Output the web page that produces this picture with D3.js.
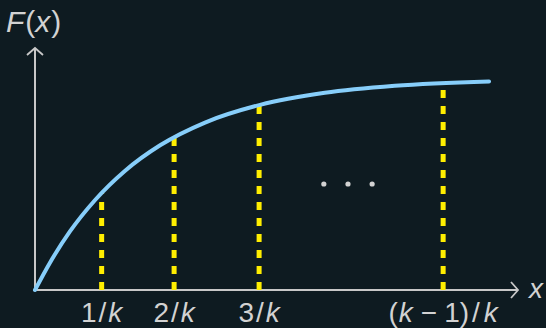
<!DOCTYPE html>
<html>
<head>
<meta charset="utf-8">
<script src="https://cdn.jsdelivr.net/npm/d3@7"></script>
<style>
  html, body { margin: 0; padding: 0; background: #0e1b21; }
  svg { display: block; }
  text { font-family: "Liberation Sans", Arial, sans-serif; fill: #d2d2d2; }
</style>
</head>
<body>
<svg id="chart" width="546" height="328"></svg>
<script>
// curve (x, F(x)) in axis units
var curveX = [0, 0.31, 0.72, 1.24, 1.86, 2.59, 3.52, 4.66, 6.00, 7.45, 9.40];
var curveY = [0, 1.13, 2.41, 3.71, 4.92, 5.98, 6.92, 7.65, 8.15, 8.44, 8.62];

// dashed verticals and their labels  [text, italic, dx]
var markX = [1.38, 2.88, 4.64, 8.45];
var markTop = [4.0, 6.3, 7.64, 8.5];
var markLabels = [
    [["1", false, 0], ["/", false, 2], ["k", true, 2]],
    [["2", false, 0], ["/", false, 2], ["k", true, 2]],
    [["3", false, 0], ["/", false, 2], ["k", true, 2]],
    [["(", false, 0], ["k", true, 1], ["\u2212", false, 8], ["1", false, 7], [")", false, 0], ["/", false, 3], ["k", true, 4]]
];

// the "..." between the lines
var dotsX = [5.98, 6.48, 6.98];
var dotsY = [4.38, 4.38, 4.38];

var svg = d3.select("#chart");
var x = d3.scaleLinear().domain([0, 10]).range([35, 518]);
var y = d3.scaleLinear().domain([0, 10]).range([290, 48]);

var axisColor = "#c8c8c8";

// axes
svg.append("line")
    .attr("x1", x(0)).attr("y1", y(0))
    .attr("x2", x(10)).attr("y2", y(0))
    .style("stroke", axisColor).style("stroke-width", 2);
svg.append("line")
    .attr("x1", x(0)).attr("y1", y(0))
    .attr("x2", x(0)).attr("y2", y(10))
    .style("stroke", axisColor).style("stroke-width", 2);

// open arrow heads
svg.append("path")
    .attr("d", "M" + (x(10) - 7) + "," + (y(0) - 8) + "L" + x(10) + "," + y(0) + "L" + (x(10) - 7) + "," + (y(0) + 8))
    .style("fill", "none").style("stroke", axisColor).style("stroke-width", 1.8);
svg.append("path")
    .attr("d", "M" + (x(0) - 8) + "," + (y(10) + 7) + "L" + x(0) + "," + y(10) + "L" + (x(0) + 8) + "," + (y(10) + 7))
    .style("fill", "none").style("stroke", axisColor).style("stroke-width", 1.8);

// dashed verticals, drawn bottom-up
svg.selectAll(".mark")
    .data(markX)
    .enter().append("line")
    .attr("class", "mark")
    .attr("x1", function(d){ return x(d); })
    .attr("x2", function(d){ return x(d); })
    .attr("y1", y(0))
    .attr("y2", function(d, i){ return y(markTop[i]); })
    .style("stroke", "#ffee00")
    .style("stroke-width", 5)
    .style("stroke-dasharray", "8,8");

// curve
var pts = curveX.map(function(d, i){ return [d, curveY[i]]; });
var line = d3.line()
    .x(function(d){ return x(d[0]); })
    .y(function(d){ return y(d[1]); })
    .curve(d3.curveMonotoneX);
svg.append("path")
    .datum(pts)
    .attr("d", line)
    .style("fill", "none")
    .style("stroke", "#87cefa")
    .style("stroke-width", 4)
    .style("stroke-linecap", "round");

// dots
svg.selectAll(".dot")
    .data(dotsX)
    .enter().append("circle")
    .attr("class", "dot")
    .attr("cx", function(d){ return x(d); })
    .attr("cy", function(d, i){ return y(dotsY[i]); })
    .attr("r", 2.6)
    .style("fill", "#d2d2d2");

// tick labels
markLabels.forEach(function(parts, i){
    var t = svg.append("text")
        .attr("x", x(markX[i]))
        .attr("y", 322)
        .attr("text-anchor", "middle")
        .style("font-size", "28px");
    parts.forEach(function(p){
        var s = t.append("tspan").text(p[0]);
        if (p[1]) s.style("font-style", "italic");
        if (p[2]) s.attr("dx", p[2]);
    });
});

// axis titles
svg.append("text")
    .attr("x", 529).attr("y", 298)
    .style("font-size", "28px").style("font-style", "italic")
    .text("x");

var ft = svg.append("text")
    .attr("x", 6).attr("y", 32)
    .style("font-size", "30px");
ft.append("tspan").style("font-style", "italic").text("F");
ft.append("tspan").attr("dx", 1).text("(");
ft.append("tspan").style("font-style", "italic").text("x");
ft.append("tspan").attr("dx", 1).text(")");
</script>
</body>
</html>
